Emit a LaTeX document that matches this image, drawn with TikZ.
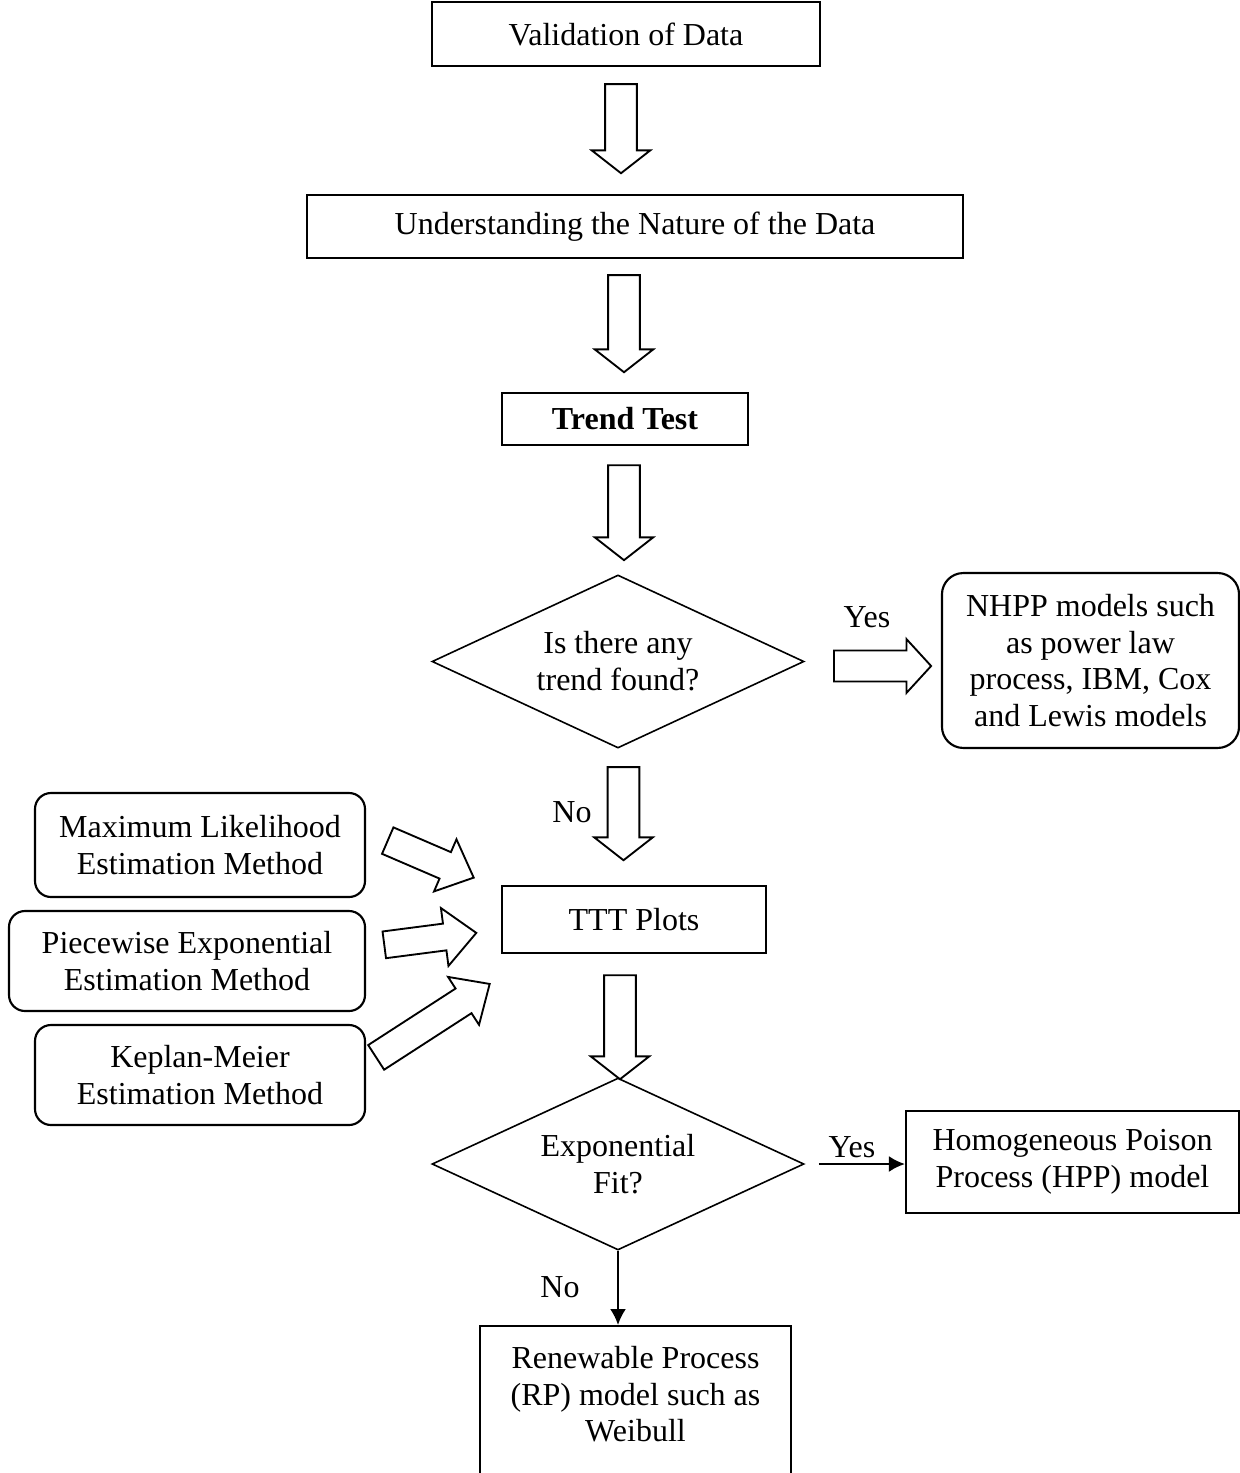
\documentclass[tikz,border=0pt]{standalone}
\usepackage{fontspec}
\setmainfont{Liberation Serif}
\usepackage{tikz}
\usetikzlibrary{positioning,arrows.meta,calc,shapes.geometric,shapes.arrows}

\begin{document}
\begin{tikzpicture}[
    x=0.375pt, y=-0.375pt,
    font=\fontsize{12}{13.8}\selectfont,
    box/.style={draw, line width=0.8pt, align=center, inner sep=0pt},
    rbox/.style={box, rounded corners=6pt},
    decision/.style={diamond, draw, line width=0.6pt, align=center, inner sep=0pt, aspect=2.15},
    blockarr/.style={single arrow, draw, line width=0.7pt, inner xsep=0pt, inner ysep=5.6pt, single arrow head extend=5pt, single arrow tip angle=104},
    flow/.style={-{Latex[length=6pt, width=6pt]}, line width=0.8pt},
    lbl/.style={inner sep=0pt}
]
    \useasboundingbox (0,0) rectangle (1240,1473);
    \clip (0,0) rectangle (1240,1473);

    % Main column
    \node[box, minimum width=145.5pt, minimum height=24pt] (val) at (626,34) {Validation of Data};
    \node[blockarr, rotate=-90, minimum height=33.4pt] (a1) at (621,122.5) {};
    \node[box, minimum width=246pt, minimum height=23.6pt] (und) at (635,226.5) {Understanding the Nature of the Data};
    \node[blockarr, rotate=-90, minimum height=36.4pt] (a2) at (624,317.5) {};
    \node[box, minimum width=92.25pt, minimum height=19.5pt] (trend) at (625,419) {\textbf{Trend Test}};
    \node[blockarr, rotate=-90, minimum height=35.6pt] (a3) at (624,506.5) {};

    % First decision
    \node[decision, minimum width=139.5pt, minimum height=64.9pt] (trendq) at (618,661.5) {Is there any\\trend found?};
    \node[blockarr, minimum height=36.4pt, inner ysep=5.45pt, single arrow head extend=4.3pt, single arrow tip angle=95] (ayes) at (875.5,666) {};
    \node[lbl] (yes1) at (867,617) {Yes};
    \node[rbox, rounded corners=8pt, minimum width=111.4pt, minimum height=65.6pt] (nhpp) at (1090.5,660.5) {NHPP models such\\as power law\\process, IBM, Cox\\and Lewis models};
    \node[blockarr, rotate=-90, minimum height=34.9pt] (ano) at (623.5,807.5) {};
    \node[lbl] (no1) at (572,812) {No};

    % Estimation methods
    \node[box, minimum width=99pt, minimum height=25.1pt] (ttt) at (634,919.5) {TTT Plots};
    \node[rbox, minimum width=123.75pt, minimum height=39pt] (mle) at (200,845) {Maximum Likelihood\\Estimation Method};
    \node[rbox, minimum width=133.5pt, minimum height=37.5pt] (pw) at (187,961) {Piecewise Exponential\\Estimation Method};
    \node[rbox, minimum width=123.75pt, minimum height=37.5pt] (km) at (200,1075) {Keplan-Meier\\Estimation Method};
    \node[blockarr, rotate=-23.3, minimum height=35.1pt, inner ysep=5.05pt, single arrow head extend=5.25pt, single arrow tip angle=85] (am) at (423.5,856) {};
    \node[blockarr, rotate=7.4, minimum height=34.8pt, inner ysep=4.7pt, single arrow head extend=5.9pt, single arrow tip angle=85] (ap) at (423,939.8) {};
    \node[blockarr, rotate=32.9, minimum height=50.7pt, inner ysep=5.15pt, single arrow head extend=5.2pt, single arrow tip angle=85] (ak) at (426.2,1025) {};
    \node[blockarr, rotate=-90, minimum height=39pt] (a4) at (620,1021) {};

    % Second decision
    \node[decision, minimum width=139.5pt, minimum height=64.5pt] (expq) at (618,1164) {Exponential\\Fit?};
    \node[box, minimum width=124.9pt, minimum height=38.25pt] (hpp) at (1072.5,1162) {Homogeneous Poison\\Process (HPP) model};
    \draw[flow] ($(expq.east)+(14,0)$) -- (expq.east -| hpp.west);
    \node[lbl] (yes2) at (852,1147) {Yes};
    \node[box, anchor=north, minimum width=116.6pt, inner ysep=7.5pt, text depth=70pt] (rp) at (635.5,1325) {Renewable Process\\(RP) model such as\\Weibull};
    \draw[flow] (expq.south) -- (expq.south |- rp.north);
    \node[lbl] (no2) at (560,1287) {No};
\end{tikzpicture}
\end{document}
